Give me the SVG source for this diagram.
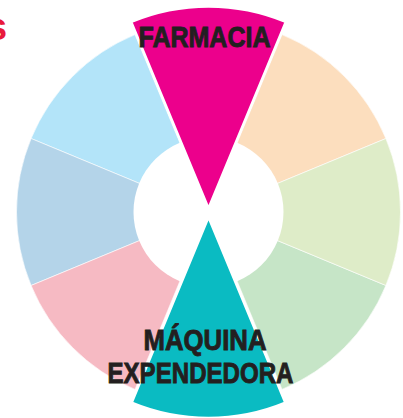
<svg xmlns="http://www.w3.org/2000/svg" width="403" height="418" viewBox="0 0 403 418">
<style>
.seg{stroke:#ffffff;stroke-width:0.6}
.hi{stroke:#ffffff;stroke-width:2.6;stroke-linejoin:miter}
.lbl{font-family:"Liberation Sans",Arial,sans-serif;font-weight:bold;fill:#231F20;stroke:#231F20;stroke-width:0.9;text-anchor:middle}
</style>
<rect width="403" height="418" fill="#ffffff"/>
<text x="-14" y="40" font-family="Liberation Sans, Arial, sans-serif" font-weight="bold" font-size="38" fill="#E8193C">s</text>
<g id="ring">
<g id="seg-peach"><path class="seg" fill="#FCDEBE" d="M208.5,212 L385.885,138.525 A192,192 0 0 0 282,34.615 Z"/></g>
<g id="seg-lightblue"><path class="seg" fill="#B3E4F9" d="M208.5,212 L135.025,34.615 A192,192 0 0 0 31.115,138.525 Z"/></g>
<g id="seg-steelblue"><path class="seg" fill="#B4D4E9" d="M208.5,212 L31.115,138.525 A192,192 0 0 0 31.115,285.475 Z"/></g>
<g id="seg-pink"><path class="seg" fill="#F6BAC3" d="M208.5,212 L31.115,285.475 A192,192 0 0 0 135.025,389.385 Z"/></g>
<g id="seg-palegreen"><path class="seg" fill="#C6E5C7" d="M208.5,212 L282,389.385 A192,192 0 0 0 385.885,285.475 Z"/></g>
<g id="seg-lightgreen"><path class="seg" fill="#DEECC8" d="M208.5,212 L385.885,285.475 A192,192 0 0 0 385.885,138.525 Z"/></g>
<circle cx="208.5" cy="212" r="75" fill="#ffffff"/>
</g>
<g id="farmacia">
<path class="hi" fill="#EC008C" d="M208.5,208.5 L285.8,21.9 A202,202 0 0 0 131.2,21.9 Z"/>
<text class="lbl" x="204.5" y="47" font-size="30" textLength="132" lengthAdjust="spacingAndGlyphs">FARMACIA</text>
</g>
<g id="maquina">
<path class="hi" fill="#0ABBC2" d="M208.5,217 L131.6,402.7 A201,201 0 0 0 285.4,402.7 Z"/>
<text class="lbl" x="205" y="350" font-size="29" textLength="123" lengthAdjust="spacingAndGlyphs">MÁQUINA</text>
<text class="lbl" x="200.5" y="383" font-size="29" textLength="186" lengthAdjust="spacingAndGlyphs">EXPENDEDORA</text>
</g>
<g id="connectors"/>
</svg>
